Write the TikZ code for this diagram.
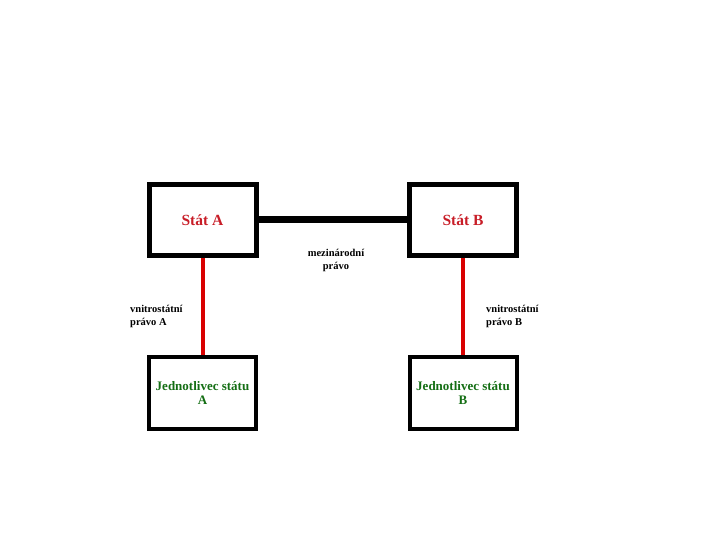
\documentclass[tikz,border=0pt]{standalone}
\usepackage{fontspec}
\setmainfont{Liberation Serif}
\usepackage{tikz}
\usetikzlibrary{positioning}

\definecolor{statred}{RGB}{200,30,40}
\definecolor{osobagreen}{RGB}{20,110,20}

\begin{document}
\begin{tikzpicture}[x=1pt, y=-1pt,
  stat/.style={draw, line width=5pt, minimum width=107pt, minimum height=70pt, align=center, text=statred, font=\fontsize{15.5}{17}\selectfont\bfseries},
  osoba/.style={draw, line width=4pt, minimum width=107pt, minimum height=72pt, align=center, text=osobagreen, font=\fontsize{13}{14}\selectfont\bfseries},
  pravo/.style={align=left, inner sep=0pt, font=\fontsize{10.5}{13}\selectfont\bfseries},
  vazba/.style={line width=7pt},
  redline/.style={line width=4pt, draw=red!85!black}
]

\useasboundingbox (0,0) rectangle (720,540);

\node[stat]  (statA) at (202.5,220) {Stát A};
\node[stat]  (statB) at (463,220)   {Stát B};
\node[osoba] (jedA)  at (202.5,393) {Jednotlivec státu\\A};
\node[osoba] (jedB)  at (463,393)   {Jednotlivec státu\\B};

\node[pravo, align=center] (mezi) at (336,260) {mezinárodní\\právo};
\node[pravo, anchor=west]  (vnA)  at (130,316) {vnitrostátní\\právo A};
\node[pravo, anchor=west]  (vnB)  at (486,316) {vnitrostátní\\právo B};

\draw[vazba]   (statA.east)  -- (statB.west);
\draw[redline] (statA.south) -- (jedA.north);
\draw[redline] (statB.south) -- (jedB.north);

\end{tikzpicture}
\end{document}
